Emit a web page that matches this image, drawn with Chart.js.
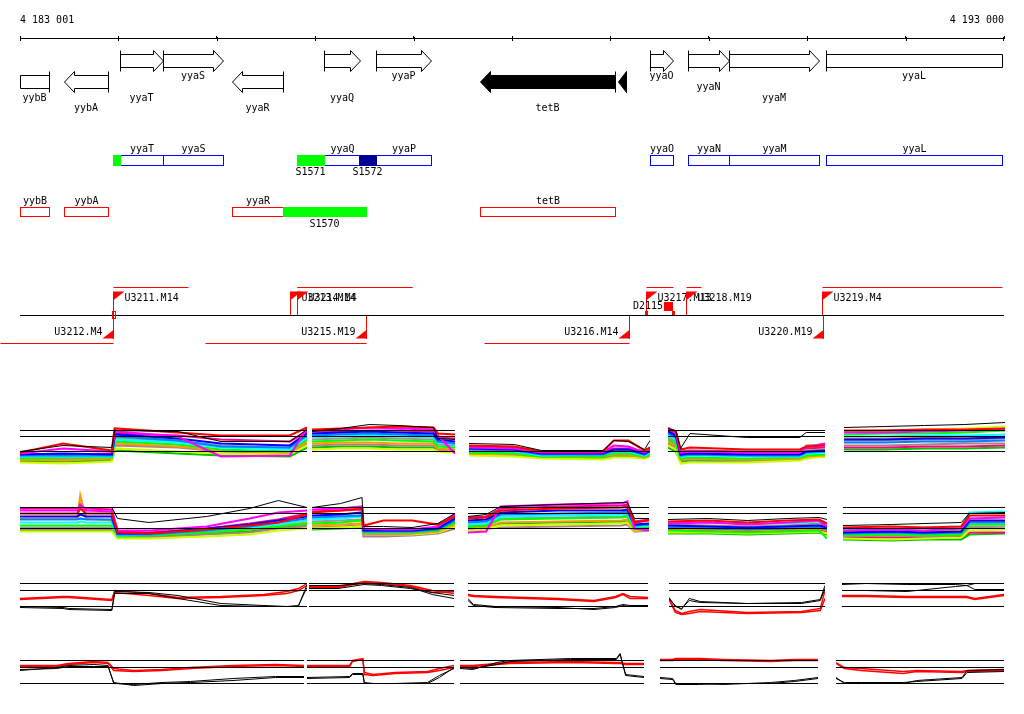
<!DOCTYPE html>
<html><head><meta charset="utf-8">
<script src="https://cdn.jsdelivr.net/npm/chart.js@4.4.0/dist/chart.umd.min.js"></script>
<style>
html,body{margin:0;padding:0;background:#fff;}
#wrap{position:relative;width:1024px;height:714px;overflow:hidden;background:#fff;}
#wrap canvas{position:absolute;}
</style></head><body>
<div id="wrap"><canvas id="top" width="1024" height="400" style="left:0;top:0"></canvas></div>
<script>
// ================= DATA =================
const viewStart = 4183001, viewEnd = 4193000;
const rulerTicks = [4183001,4184001,4185001,4186001,4187001,4188001,4189001,4190001,4191001,4192001,4193000];

const geneNames  = ['yybB','yybA','yyaT','yyaS','yyaR','yyaQ','yyaP','tetB','','yyaO','yyaN','yyaM','yyaL'];
const geneStart  = [4182800,4183448,4184017,4184454,4185155,4186090,4186619,4187676,4189078,4189403,4189789,4190206,4191192];
const geneEnd    = [4183296,4183895,4184454,4185064,4185674,4186456,4187178,4189048,4189160,4189637,4190206,4191121,4193300];
const geneStrand = [-1,-1,1,1,-1,1,1,-1,-1,1,1,1,1];

const featNames  = ['','S1571','S1572','S1570'];
const featStart  = [4183946,4185816,4186446,4185674];
const featEnd    = [4184017,4186090,4186619,4186517];
const featStrand = [1,1,1,-1];

const tuNames  = ['U3211.M14','U3213.M14','U3214.M4','U3217.M13','U3218.M19','U3219.M4','U3212.M4','U3215.M19','U3216.M14','U3220.M19'];
const tuStart  = [4183946,4185816,4185816,4189362,4189769,4191151,4182798,4184881,4187716,4191161];
const tuEnd    = [4184708,4186985,4186985,4189637,4189922,4192980,4183946,4186517,4189190,4191161];
const tuSite   = [4183946,4185745,4185816,4189362,4189769,4191151,4183946,4186517,4189190,4191161];
const tuStrand = [1,1,1,1,1,1,-1,-1,-1,-1];

const mkNames    = ['','D2115'];
const mkStart    = [4183936,4189352];
const mkEnd      = [4183966,4189657];
const mkBoxStart = [0,4189545];
const mkBoxEnd   = [0,4189637];

// ---- profile panels (values relative to each panel's baseline) ----
// row 1
const P11X = [0,15,32,33,55,70,94,100];
const P11K = [0,6,4,21,20,10,10,22];
const P11C = [[-1,8,1,23,19,16,16,24],[-2,3,0,20,15,-5,-4,23],[-3,-2,-3,17,13,8,6,18],[-4,-4,-4,15,11,5,4,16],[-5,-5,-5,12,9,4,2,14],[-7,-6,-6,10,7,2,0,12],[-8,-9,-7,8,5,1,-1,10],[-6,-7,-6,13,10,6,3,15],[-11,-12,-10,3,0,-2,-3,6],[-9,-8,-8,6,4,0,-2,8],[-3,-3,-2,18,16,12,10,20],[-10,-10,-9,1,-2,-4,-5,4]];
const P12X = [0,20,40,60,85,88,100];
const P12K = [20,23,27,26,24,13,12];
const P12C = [[22,23,24,25,24,18,17],[21,22,24,23,22,16,-2],[18,19,20,19,18,12,10],[16,17,18,17,16,10,8],[14,15,16,15,14,9,7],[10,11,12,11,10,5,4],[8,9,9,8,8,3,2],[12,13,14,13,12,7,6],[2,3,3,2,2,0,-1],[6,7,7,6,6,2,1],[20,20,21,21,20,14,13],[4,5,5,4,4,1,0]];
const P13X = [0,25,40,74,80,88,97,100];
const P13K = [8,7,1,1,11,10,2,11];
const P13C = [[6,5,0,0,11,11,1,4],[4,3,-1,-1,6,5,-1,2],[3,2,-2,-2,2,2,-2,1],[2,1,-3,-3,1,1,-3,0],[1,0,-4,-3,0,0,-4,-1],[-1,-2,-5,-5,-2,-2,-5,-3],[-2,-3,-5,-5,-3,-3,-6,-4],[0,-1,-4,-4,-1,-1,-4,-2],[-4,-5,-7,-8,-6,-6,-7,-5],[-3,-3,-6,-6,-4,-4,-6,-4],[5,4,0,0,3,3,0,3],[-2,-3,-6,-7,-5,-5,-6,-5]];
const P14X = [0,5,8,14,50,84,88,100];
const P14K = [23,21,3,18,14,14,19,19];
const P14C = [[22,20,2,4,2,2,5,6],[24,18,-1,0,-1,-1,4,8],[20,16,-3,-2,-3,-3,0,1],[18,14,-4,-3,-4,-4,-1,0],[16,12,-5,-4,-5,-5,-2,-1],[12,8,-7,-6,-7,-6,-4,-3],[10,6,-8,-7,-8,-7,-5,-4],[14,10,-2,-1,-2,-2,1,2],[6,2,-12,-11,-11,-9,-7,-5],[8,4,-9,-8,-9,-8,6,7],[21,17,0,1,0,0,3,4],[4,0,-10,-9,-10,-8,-6,-5]];
const P15X = [0,25,50,75,100];
const P15K = [24,25,26,27,29];
const P15C = [[21,21,22,22,23],[19,19,20,21,22],[12,12,13,13,14],[9,9,10,10,11],[15,15,16,16,17],[17,18,18,19,21],[13,13,14,15,15],[11,11,12,12,13],[20,21,22,23,25],[6,6,7,8,8],[4,4,5,5,6],[2,2,3,3,4]];
// row 2
const P21X = [0,20,21,23,32,34,45,65,80,90,100];
const P21K = [21,21,21,21,21,10,6,12,20,28,21];
const P21C = [[15,15,20,15,15,-4,-5,-1,3,6,14],[18,18,24,18,17,-2,-2,2,10,16,18],[12,12,14,12,12,-5,-5,0,4,8,12],[9,9,10,9,9,-6,-6,-2,2,6,10],[6,6,7,6,6,-7,-6,-2,1,4,8],[3,3,3,3,3,-8,-7,-4,-1,2,5],[10,10,33,10,8,-5,-6,-3,-1,3,6],[1,1,1,1,1,-6,-7,-3,0,3,4],[-3,-3,-3,-3,-3,-10,-10,-8,-6,-2,0],[-1,-1,-1,-1,-1,-9,-9,-6,-4,0,2],[20,20,22,20,19,-3,-4,0,5,9,15],[-2,-2,-2,-2,-2,-8,-8,-5,-3,1,3]];
const P22X = [0,20,35,36,50,70,88,100];
const P22K = [21,25,31,2,2,1,5,15];
const P22C = [[16,18,20,3,8,8,4,12],[19,20,22,0,-1,-1,2,14],[13,14,16,-2,-2,-2,0,10],[11,12,13,-3,-3,-3,-1,8],[9,10,12,-3,-3,-3,0,13],[5,6,8,-4,-4,-4,-2,6],[3,4,5,-5,-5,-5,-3,4],[7,8,9,-6,-6,-5,-3,5],[0,1,2,-6,-6,-6,-4,2],[1,2,3,-8,-8,-7,-5,0],[17,18,19,-1,-1,-1,1,11],[-1,0,1,-5,-5,-4,-3,3]];
const P23X = [0,10,18,50,85,88,92,100];
const P23K = [12,14,22,24,26,26,10,10];
const P23C = [[10,11,18,20,21,22,6,8],[-4,-3,22,24,25,27,0,-2],[8,9,16,18,18,19,4,5],[6,7,14,15,16,17,3,4],[4,5,12,13,14,15,2,3],[2,3,9,10,11,12,0,1],[0,1,6,7,8,9,-1,0],[3,4,10,11,12,13,1,2],[-2,-1,3,4,5,6,-2,-1],[-1,0,1,2,3,4,-3,-2],[11,12,20,22,23,24,7,9],[1,2,5,6,7,8,-1,0]];
const P24X = [0,25,50,75,95,100];
const P24K = [9,10,8,10,11,9];
const P24C = [[7,8,6,8,9,5],[5,6,4,6,8,2],[3,2,1,2,3,1],[1,0,-1,0,1,-1],[6,6,5,5,7,4],[-2,-3,-4,-3,-2,-10],[0,-1,-2,-1,0,-2],[2,1,0,1,2,0],[-4,-4,-5,-4,-3,-5],[4,3,2,3,5,3],[-1,-2,-3,-2,-1,-3],[-5,-5,-6,-5,-4,-6]];
const P25X = [0,30,50,73,78,100];
const P25K = [3,4,5,6,15,16];
const P25C = [[1,2,1,2,13,13],[-2,-1,-2,0,10,11],[-4,-3,-4,-3,8,8],[-5,-4,-5,-4,6,6],[-1,0,1,2,16,17],[-7,-6,-7,-6,4,4],[-3,-2,-3,-2,7,7],[-6,-5,-6,-5,2,2],[-10,-11,-10,-9,-2,-1],[-8,-7,-8,-7,1,0],[-9,-9,-9,-8,-4,-4],[-11,-12,-11,-11,-6,-5]];
// row 3
const P31X = [0,15,17,32,33,45,55,70,85,93,97,100];
const P31R = [[8,10,10,7,16,13,9,10,12,15,18,23],[7,9,9,6,14,11,8,9,11,13,16,21]];
const P31K = [[0,-1,-2,-3,15,14,11,3,1,0,0,22],[-1,-2,-3,-4,13,13,8,1,0,0,1,19]];
const P32X = [0,20,38,50,70,85,100];
const P32R = [[20,20,25,24,21,16,13],[19,19,24,23,20,14,15]];
const P32K = [[21,21,23,22,19,12,8],[18,18,22,21,18,14,11]];
const P33X = [0,3,15,50,70,82,86,90,100];
const P33R = [[12,11,10,8,6,10,13,10,9],[11,10,9,7,5,9,12,8,8]];
const P33K = [[8,2,0,-1,-3,-1,1,0,0],[6,1,-1,-2,-2,0,2,1,1]];
const P34X = [0,4,8,13,20,50,85,97,100];
const P34R = [[8,-4,-7,-5,-3,-6,-5,-2,16],[7,-6,-8,-7,-5,-7,-6,-4,8]];
const P34K = [[9,0,-2,6,4,3,4,7,21],[8,1,-3,8,5,3,3,6,18]];
const P35X = [0,15,40,70,77,82,100];
const P35R = [[11,11,10,10,10,8,12],[10,10,9,9,9,7,11]];
const P35K = [[22,23,22,22,21,23,23],[16,16,15,20,21,17,17]];
// row 4
const P41X = [0,13,17,26,31,33,40,50,60,75,90,100];
const P41R = [[18,18,20,22,21,15,13,14,16,18,19,18],[17,17,19,21,20,13,12,13,15,17,18,17]];
const P41K = [[13,16,18,19,18,0,-1,1,2,5,7,7],[14,15,17,17,17,1,-2,0,1,3,6,6]];
const P42X = [0,29,31,38,39,45,60,82,90,100];
const P42R = [[18,18,23,25,11,9,11,12,15,18],[17,17,22,24,9,8,10,11,13,16]];
const P42K = [[6,7,10,10,0,0,0,0,6,16],[5,6,9,9,1,0,0,1,8,15]];
const P43X = [0,7,20,27,60,85,87,90,100];
const P43R = [[18,18,20,21,22,21,21,20,20],[17,17,19,20,21,20,20,19,19]];
const P43K = [[15,14,21,23,25,25,30,8,6],[16,15,19,22,24,24,29,9,7]];
const P44X = [0,8,10,25,40,70,85,100];
const P44R = [[24,24,25,25,24,23,24,24],[23,23,24,24,23,22,23,23]];
const P44K = [[6,5,0,0,-1,1,3,6],[5,4,-1,-1,0,0,2,5]];
const P45X = [0,5,15,40,48,75,78,100];
const P45R = [[21,16,15,12,13,12,13,14],[20,15,13,10,12,11,12,13]];
const P45K = [[6,0,0,0,3,6,13,14],[5,1,1,1,2,5,11,12]];

// ================= LAYOUT / STYLE =================
const FONT = '10px "DejaVu Sans Mono", "Liberation Mono", monospace';
const GENE_FWD_Y = 61, GENE_REV_Y = 82, BODY_H = 6.5, HEAD_H = 10.5, HEAD_LEN = 10;
const GENE_LABEL_Y = [76.5, 87, 98.5, 108.5];
const GENE_LABEL_ROW = [2,3,2,0,3,2,0,3,-1,0,1,2,0];
const GENE_FILLED = [0,0,0,0,0,0,0,1,1,0,0,0,0];
const BOX_FWD = [155.5,165.5], BOX_REV = [207.5,216.5];
const BOX_FWD_LABEL = 149, BOX_REV_LABEL = 201, FEAT_FWD_LABEL = 172, FEAT_REV_LABEL = 224;
const FEAT_COLORS = ['#00ff00','#00ff00','#000099','#00ff00'];
const TU_AXIS = 315.5;
const PALETTE = ['#ff0000','#ff00ff','#0000ff','#0080ff','#00ffff','#00ff00','#ff9900','#999999','#ccff00','#b08080','#ff0080','#00c000'];

function fmtPos(v){ return String(v).replace(/\B(?=(\d{3})+(?!\d))/g,' '); }
const snap = p => Math.round(p) + 0.5;

const tracksPlugin = {
  id: 'tracks',
  afterDraw(chart){
    const ctx = chart.ctx, xs = chart.scales.x;
    const L = xs.left, R = xs.right;
    const px = v => xs.getPixelForValue(v);
    const cw = chart.width;
    const cl = p => Math.max(0, Math.min(cw, p));
    ctx.save();
    ctx.lineWidth = 1;
    ctx.font = FONT;
    ctx.textBaseline = 'middle';
    ctx.textAlign = 'center';
    // ---- ruler ticks crossing the line ----
    ctx.strokeStyle = '#000';
    rulerTicks.forEach(v => { const x = snap(Math.min(px(v), R - 1)); ctx.beginPath(); ctx.moveTo(x, xs.bottom - 1); ctx.lineTo(x, xs.bottom + 3); ctx.stroke(); });
    // ---- gene arrows ----
    for (let i = 0; i < geneNames.length; i++){
      let a = px(geneStart[i]), b = px(geneEnd[i]);
      const clipL = a < L, clipR = b > R;
      a = Math.max(a, L); b = Math.min(b, R - 2);
      const fwd = geneStrand[i] > 0;
      const cy = fwd ? GENE_FWD_Y : GENE_REV_Y;
      const A = snap(a), B = snap(b);
      const headless = fwd ? clipR : clipL;
      const hl = headless ? 0 : Math.min(HEAD_LEN, B - A);
      let pts;
      if (hl === 0) pts = [[A,cy-BODY_H],[B,cy-BODY_H],[B,cy+BODY_H],[A,cy+BODY_H]];
      else if (fwd){ const H = B - hl; pts = [[A,cy-BODY_H],[H,cy-BODY_H],[H,cy-HEAD_H],[B,cy],[H,cy+HEAD_H],[H,cy+BODY_H],[A,cy+BODY_H]]; }
      else { const H = A + hl; pts = [[B,cy-BODY_H],[H,cy-BODY_H],[H,cy-HEAD_H],[A,cy],[H,cy+HEAD_H],[H,cy+BODY_H],[B,cy+BODY_H]]; }
      ctx.beginPath();
      pts.forEach((p,k)=> k ? ctx.lineTo(p[0],p[1]) : ctx.moveTo(p[0],p[1]));
      ctx.closePath();
      ctx.fillStyle = GENE_FILLED[i] ? '#000' : '#fff';
      ctx.fill();
      ctx.strokeStyle = '#000';
      ctx.stroke();
      const tx = fwd ? (clipL ? null : A) : (clipR ? null : B);
      if (tx !== null){ ctx.beginPath(); ctx.moveTo(tx, cy-HEAD_H); ctx.lineTo(tx, cy+HEAD_H); ctx.stroke(); }
      if (geneNames[i]){
        ctx.fillStyle = '#000';
        ctx.fillText(geneNames[i], (a+b)/2, GENE_LABEL_Y[GENE_LABEL_ROW[i]]);
      }
    }
    // ---- annotation boxes ----
    for (let i = 0; i < geneNames.length; i++){
      if (!geneNames[i]) continue;
      const a = snap(Math.max(px(geneStart[i]), L)), b = snap(Math.min(px(geneEnd[i]), R - 2));
      const fwd = geneStrand[i] > 0;
      const yy = fwd ? BOX_FWD : BOX_REV;
      ctx.strokeStyle = fwd ? '#0000ff' : '#ff0000';
      ctx.strokeRect(a, yy[0], b - a, yy[1] - yy[0]);
      ctx.fillStyle = '#000';
      ctx.fillText(geneNames[i], (a+b)/2, fwd ? BOX_FWD_LABEL : BOX_REV_LABEL);
    }
    for (let i = 0; i < featNames.length; i++){
      const a = Math.round(px(featStart[i])), b = Math.round(px(featEnd[i]));
      const fwd = featStrand[i] > 0;
      const yy = fwd ? BOX_FWD : BOX_REV;
      ctx.fillStyle = FEAT_COLORS[i];
      ctx.fillRect(a, yy[0]-0.5, b - a + 1, yy[1] - yy[0] + 1);
      if (featNames[i]){
        ctx.fillStyle = '#000';
        ctx.fillText(featNames[i], (a+b)/2, fwd ? FEAT_FWD_LABEL : FEAT_REV_LABEL);
      }
    }
    // ---- transcription units ----
    ctx.strokeStyle = '#000';
    ctx.beginPath(); ctx.moveTo(L, TU_AXIS); ctx.lineTo(R, TU_AXIS); ctx.stroke();
    for (let i = 0; i < tuNames.length; i++){
      const s = snap(cl(px(tuStart[i]))), e = snap(cl(px(tuEnd[i]))), t = snap(cl(px(tuSite[i])));
      ctx.strokeStyle = '#ff0000'; ctx.fillStyle = '#ff0000';
      if (tuStrand[i] > 0){
        ctx.beginPath(); ctx.moveTo(s, 287.5); ctx.lineTo(e, 287.5); ctx.stroke();
        ctx.beginPath(); ctx.moveTo(t, 292); ctx.lineTo(t, 315); ctx.stroke();
        ctx.beginPath(); ctx.moveTo(t-0.5, 291.5); ctx.lineTo(t+11, 291.5); ctx.lineTo(t-0.5, 300.5); ctx.closePath(); ctx.fill();
        ctx.fillStyle = '#000'; ctx.textAlign = 'left';
        ctx.fillText(tuNames[i], t + 11, 298);
      } else {
        if (e > s){ ctx.beginPath(); ctx.moveTo(s, 343.5); ctx.lineTo(e, 343.5); ctx.stroke(); }
        ctx.beginPath(); ctx.moveTo(t, 316); ctx.lineTo(t, 339); ctx.stroke();
        ctx.beginPath(); ctx.moveTo(t+0.5, 338.5); ctx.lineTo(t-11, 338.5); ctx.lineTo(t+0.5, 329.5); ctx.closePath(); ctx.fill();
        ctx.fillStyle = '#000'; ctx.textAlign = 'right';
        ctx.fillText(tuNames[i], t - 11, 332.5);
      }
    }
    // ---- markers ----
    for (let i = 0; i < mkNames.length; i++){
      const s = Math.round(px(mkStart[i])), e = Math.round(px(mkEnd[i]));
      ctx.fillStyle = '#ff0000'; ctx.strokeStyle = '#ff0000';
      if (!mkBoxStart[i]){
        ctx.strokeRect(s + 0.5, 311.5, e - s, 7);
      } else {
        ctx.fillRect(s, 311, 3, 4);
        ctx.fillRect(e - 3, 311, 3, 4);
        const bs = Math.round(px(mkBoxStart[i])), be = Math.round(px(mkBoxEnd[i]));
        ctx.fillRect(bs, 302, be - bs, 9);
        ctx.fillStyle = '#000'; ctx.textAlign = 'right';
        ctx.fillText(mkNames[i], bs - 1, 306.5);
      }
    }
    ctx.restore();
  }
};

new Chart(document.getElementById('top'), {
  type: 'scatter',
  data: { datasets: [] },
  options: {
    responsive: false, animation: false, events: [],
    layout: { padding: { left: 20, right: 20, top: 4, bottom: 0 } },
    plugins: { legend: { display: false }, tooltip: { enabled: false } },
    scales: {
      x: {
        type: 'linear', position: 'top', min: viewStart, max: viewEnd,
        afterBuildTicks: s => { s.ticks = rulerTicks.map(v => ({ value: v })); },
        ticks: {
          autoSkip: false, maxRotation: 0, minRotation: 0, align: 'inner', padding: 10, color: '#000',
          font: { family: '"DejaVu Sans Mono", "Liberation Mono", monospace', size: 10 },
          callback: (v, i, arr) => (i === 0 || i === arr.length - 1) ? fmtPos(v) : ''
        },
        grid: { drawOnChartArea: false, drawTicks: true, tickLength: 2, color: '#000', lineWidth: 1 },
        border: { display: true, color: '#000', width: 1 }
      },
      y: { display: false, min: 0, max: 1 }
    }
  },
  plugins: [tracksPlugin]
});

// ---- profile panels ----
const PANEL_ROWS = [
  { top: 410, h: 65, ref: 451, refs: [0,15,21] },
  { top: 485, h: 65, ref: 528, refs: [0,15,21] },
  { top: 565, h: 60, ref: 606, refs: [0,16,23] },
  { top: 640, h: 60, ref: 683, refs: [0,16,23] }
];
const PANEL_COLS = [
  [[20,306],[312,454],[469,649],[668,824],[844,1004]],
  [[20,306],[312,454],[468,648],[668,826],[843,1004]],
  [[20,306],[309,453],[468,647],[669,824],[842,1003]],
  [[20,303],[307,453],[460,643],[660,817],[836,1003]]
];
const PANEL_DATA = [
  [[P11X,[P11K],[],P11C],[P12X,[P12K],[],P12C],[P13X,[P13K],[],P13C],[P14X,[P14K],[],P14C],[P15X,[P15K],[],P15C]],
  [[P21X,[P21K],[],P21C],[P22X,[P22K],[],P22C],[P23X,[P23K],[],P23C],[P24X,[P24K],[],P24C],[P25X,[P25K],[],P25C]],
  [[P31X,P31K,P31R,[]],[P32X,P32K,P32R,[]],[P33X,P33K,P33R,[]],[P34X,P34K,P34R,[]],[P35X,P35K,P35R,[]]],
  [[P41X,P41K,P41R,[]],[P42X,P42K,P42R,[]],[P43X,P43K,P43R,[]],[P44X,P44K,P44R,[]],[P45X,P45K,P45R,[]]]
];

const mkLine = (xs, ys, color, w) => ({
  data: xs.map((x, i) => ({ x, y: ys[i] })),
  borderColor: color, borderWidth: w, pointRadius: 0, tension: 0, fill: false,
  borderCapStyle: 'butt', borderJoinStyle: 'miter'
});

const wrap = document.getElementById('wrap');
PANEL_ROWS.forEach((row, r) => {
  PANEL_COLS[r].forEach((col, c) => {
    const [x0, x1] = col;
    const cv = document.createElement('canvas');
    cv.width = x1 - x0 + 1; cv.height = row.h;
    cv.style.left = x0 + 'px'; cv.style.top = row.top + 'px';
    wrap.appendChild(cv);
    const [xs, blacks, reds, bundle] = PANEL_DATA[r][c];
    const ds = [];
    row.refs.forEach(lv => ds.push(mkLine([0,100],[lv,lv],'#000',1)));
    blacks.forEach(k => ds.push(mkLine(xs,k,'#000',1)));
    reds.forEach(k => ds.push(mkLine(xs,k,'#ff0000',1.4)));
    bundle.forEach((k, j) => ds.push(mkLine(xs,k,PALETTE[j % PALETTE.length],2.2)));
    new Chart(cv, {
      type: 'line',
      data: { datasets: ds },
      options: {
        responsive: false, animation: false, events: [],
        layout: { padding: 0 },
        plugins: { legend: { display: false }, tooltip: { enabled: false } },
        scales: {
          x: { type: 'linear', display: false, min: 0, max: 100 },
          y: { display: false, min: row.ref - row.top - row.h + 0.5, max: row.ref - row.top + 0.5 }
        }
      }
    });
  });
});
</script>
</body></html>
